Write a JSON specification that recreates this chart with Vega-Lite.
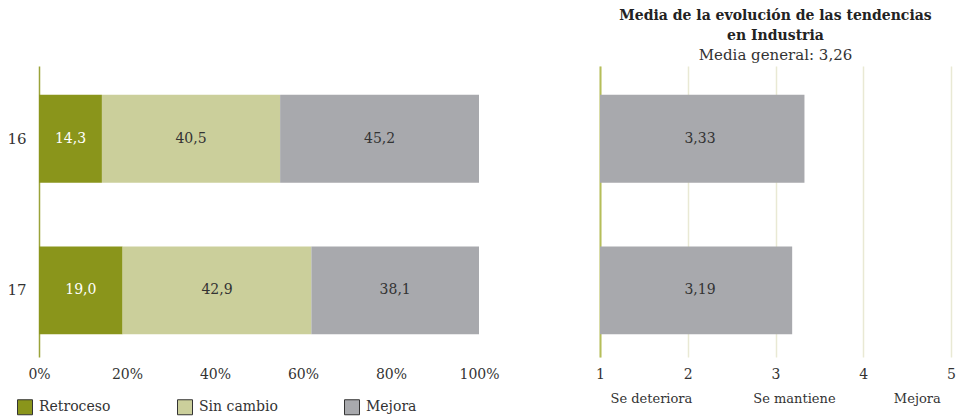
{
  "$schema": "https://vega.github.io/schema/vega-lite/v6.json",
  "padding": {"left": 6, "top": 9, "right": 8, "bottom": 0},
  "background": "white",
  "config": {
    "locale": {"number": {"decimal": ",", "thousands": ".", "grouping": [3], "currency": ["", " €"]}},
    "font": "DejaVu Serif",
    "view": {"stroke": null},
    "text": {"font": "DejaVu Serif"},
    "axis": {"labelFont": "DejaVu Serif", "labelFontSize": 14, "labelColor": "#333333", "titleFont": "DejaVu Serif"},
    "legend": {"labelFont": "DejaVu Serif", "labelFontSize": 14, "labelColor": "#333333"},
    "title": {"font": "DejaVu Serif", "subtitleFont": "DejaVu Serif"}
  },
  "datasets": {
    "reparto": [
      {"ano": "16", "cat": "Retroceso", "orden": 1, "v": 14.3},
      {"ano": "16", "cat": "Sin cambio", "orden": 2, "v": 40.5},
      {"ano": "16", "cat": "Mejora", "orden": 3, "v": 45.2},
      {"ano": "17", "cat": "Retroceso", "orden": 1, "v": 19.0},
      {"ano": "17", "cat": "Sin cambio", "orden": 2, "v": 42.9},
      {"ano": "17", "cat": "Mejora", "orden": 3, "v": 38.1}
    ],
    "media": [
      {"ano": "16", "media": 3.33},
      {"ano": "17", "media": 3.19}
    ],
    "escala": [
      {"etiqueta": "Se deteriora", "pos": 1.58},
      {"etiqueta": "Se mantiene", "pos": 3.21},
      {"etiqueta": "Mejora", "pos": 4.61}
    ]
  },
  "bounds": "flush",
  "spacing": 121,
  "hconcat": [
    {
      "width": 440,
      "height": 291,
      "data": {"name": "reparto"},
      "encoding": {
        "y": {
          "field": "ano", "type": "nominal", "title": null,
          "scale": {"paddingInner": 0.42, "paddingOuter": 0.17, "align": 0.56},
          "axis": {"ticks": false, "domainColor": "#9aa33a", "domainWidth": 1.5, "labelPadding": 13, "labelFontSize": 15}
        }
      },
      "layer": [
        {
          "mark": {"type": "bar"},
          "encoding": {
            "x": {
              "field": "v", "type": "quantitative", "stack": "zero", "title": null,
              "scale": {"domain": [0, 100]},
              "axis": {"values": [0, 20, 40, 60, 80, 100], "labelExpr": "datum.value + '%'", "grid": false, "domain": false, "ticks": false, "labelPadding": 10, "labelFlush": false}
            },
            "color": {
              "field": "cat", "type": "nominal", "title": null,
              "scale": {"domain": ["Retroceso", "Sin cambio", "Mejora"], "range": ["#8a951b", "#cbcf9b", "#a8a9ad"]},
              "legend": {
                "orient": "none", "legendX": -22, "legendY": 333, "direction": "horizontal",
                "symbolType": "square", "symbolSize": 225, "symbolStrokeColor": "#333333", "symbolStrokeWidth": 1,
                "columnPadding": 64, "labelOffset": 6, "padding": 0,
                "encode": {"symbols": {"update": {
                  "fill": {"signal": "datum.value === 'Mejora' ? '#d3d4d6' : datum.value === 'Retroceso' ? '#8a951b' : '#cbcf9b'"},
                  "stroke": {"value": "#333333"},
                  "strokeWidth": {"value": 1},
                  "opacity": {"value": 1}
                }}}
              }
            },
            "order": {"field": "orden", "type": "quantitative"}
          }
        },
        {
          "mark": {"type": "text", "fontSize": 14, "align": "center", "baseline": "middle"},
          "encoding": {
            "x": {"field": "v", "type": "quantitative", "stack": "zero", "bandPosition": 0.5},
            "detail": {"field": "cat"},
            "order": {"field": "orden", "type": "quantitative"},
            "text": {"field": "v", "type": "quantitative", "format": ".1f"},
            "color": {"condition": {"test": "datum.cat === 'Retroceso'", "value": "white"}, "value": "#333333"}
          }
        }
      ]
    },
    {
      "width": 351,
      "height": 291,
      "title": {
        "text": ["Media de la evolución de las tendencias", "en Industria"],
        "subtitle": "Media general: 3,26",
        "fontSize": 14, "fontWeight": "bold", "color": "#222222", "lineHeight": 20,
        "subtitleFontSize": 15, "subtitleColor": "#333333", "subtitlePadding": 5,
        "anchor": "middle", "offset": 3
      },
      "resolve": {"scale": {"x": "independent"}},
      "layer": [
        {
          "data": {"name": "media"},
          "layer": [
            {
              "mark": {"type": "bar", "color": "#a8a9ad"},
              "encoding": {
                "y": {
                  "field": "ano", "type": "nominal", "title": null,
                  "scale": {"paddingInner": 0.42, "paddingOuter": 0.17, "align": 0.56},
                  "axis": {"labels": false, "ticks": false, "domainColor": "#b5be5a", "domainWidth": 2}
                },
                "x": {
                  "field": "media", "type": "quantitative", "title": null,
                  "scale": {"domain": [1, 5], "zero": false},
                  "axis": {"values": [1, 2, 3, 4, 5], "format": "d", "grid": true, "gridColor": "#e9e9d4", "gridWidth": 1.5, "domain": false, "ticks": false, "labelPadding": 10, "labelFlush": false}
                },
                "x2": {"datum": 1}
              }
            },
            {
              "mark": {"type": "text", "fontSize": 14, "color": "#333333", "align": "center", "baseline": "middle"},
              "encoding": {
                "y": {"field": "ano", "type": "nominal"},
                "x": {"datum": 2.14, "type": "quantitative"},
                "text": {"field": "media", "type": "quantitative", "format": ".2f"}
              }
            }
          ]
        },
        {
          "data": {"name": "escala"},
          "mark": {"type": "text", "opacity": 0},
          "encoding": {
            "x": {
              "field": "pos", "type": "quantitative", "title": null,
              "scale": {"domain": [1, 5], "zero": false},
              "axis": {"orient": "bottom", "values": [1.58, 3.21, 4.61], "labelExpr": "datum.value < 2 ? 'Se deteriora' : datum.value < 4 ? 'Se mantiene' : 'Mejora'", "grid": false, "domain": false, "ticks": false, "offset": 33, "labelFontSize": 13, "labelFlush": false}
            },
            "text": {"field": "etiqueta"}
          }
        }
      ]
    }
  ]
}
